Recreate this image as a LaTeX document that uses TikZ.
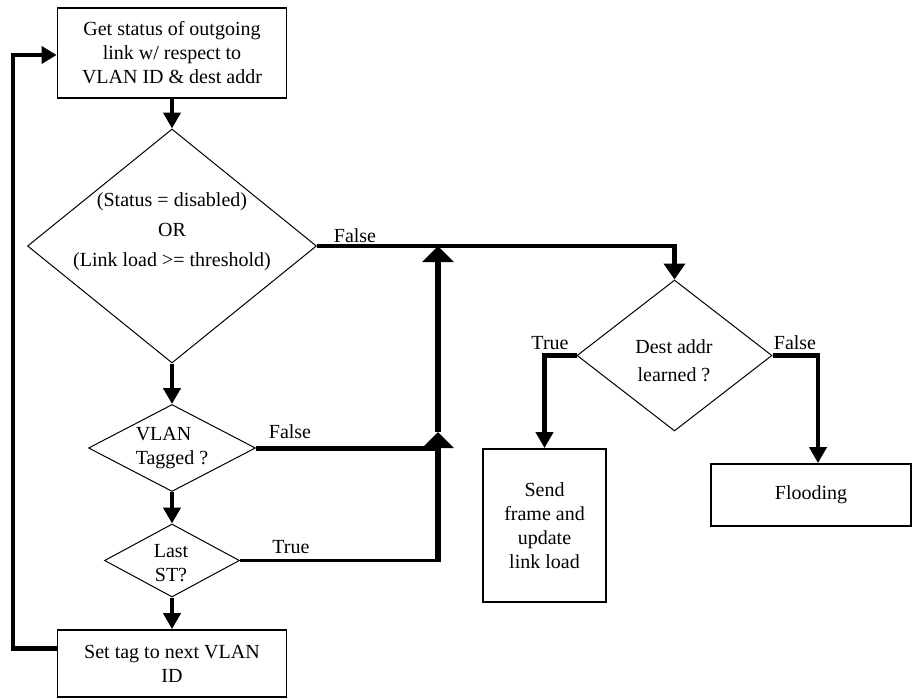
\documentclass[tikz,border=0pt]{standalone}
\usepackage{fontspec}
\setmainfont{Liberation Serif}
\usetikzlibrary{shapes.geometric,arrows.meta}
\begin{document}
\begin{tikzpicture}[x=1pt,y=-1pt,
  every node/.style={font=\fontsize{20}{24}\selectfont},
  box/.style={draw, line width=1.8pt, rectangle, inner sep=0pt, align=center},
  decision/.style={draw, line width=1pt, diamond, inner sep=0pt},
  txt/.style={inner sep=0pt, align=center},
  lbl/.style={inner sep=0pt},
  flow/.style={line width=4.5pt, -{Triangle[width=17pt,length=16pt]}},
  flowwide/.style={line width=4.5pt, -{Triangle[width=21pt,length=16pt]}},
  flowup/.style={line width=5.5pt, -{Triangle[width=31pt,length=16pt]}},
  joinline/.style={line width=5pt},
  thinjoin/.style={line width=3pt}
]
% canvas
\fill[white] (0,0) rectangle (913,699);
\useasboundingbox (0,0) rectangle (913,699);

% left column: status check and VLAN loop
\node[box, minimum width=229pt, minimum height=90pt] (top) at (172,53)
  {Get status of outgoing\\link w/ respect to\\VLAN ID \& dest addr};
\node[decision, minimum width=289pt, minimum height=234pt] (d1) at (172,246) {};
\node[txt] (d1t) at (172,232)
  {(Status = disabled)\\[6pt]OR\\[6pt](Link load >= threshold)};
\node[decision, minimum width=167pt, minimum height=87pt] (vlan) at (172,448) {};
\node[txt, align=left] (vlant) at (172,448.5) {VLAN\\Tagged ?};
\node[decision, minimum width=135pt, minimum height=73pt] (last) at (172,560.5) {};
\node[txt] (lastt) at (171,563) {Last\\ST?};
\node[box, minimum width=229pt, minimum height=67pt] (setbox) at (172,663.5)
  {Set tag to next VLAN\\ID};

% right part: forwarding decision
\node[decision, minimum width=195pt, minimum height=151pt] (dest) at (674.5,355.5) {};
\node[txt] (destt) at (674,361) {Dest addr\\[4pt]learned ?};
\node[box, minimum width=123pt, minimum height=153pt] (send) at (544.5,525.5)
  {Send\\frame and\\update\\link load};
\node[box, minimum width=200pt, minimum height=62pt] (flood) at (811,495) {Flooding};

% junction points on the return riser
\coordinate (jlow) at (438,560.5);
\coordinate (jvlan) at (440,448);
\coordinate (jmid) at (438,432);
\coordinate (loopx) at (13,350);

% vertical flow
\draw[flow] (top.south) -- (d1.north);
\draw[flow] (d1.south) -- (vlan.north);
\draw[flow] (vlan.south) -- (last.north);
\draw[flow] (last.south) -- (setbox.north);

% loop back to the top
\draw[line width=4.5pt, -{Triangle[width=17pt,length=15pt]}]
  ([yshift=15pt]setbox.west) -| (loopx) |- ([yshift=-2pt]top.west);

% false branch of the status test
\draw[flowwide] (d1.east) -| (dest.north);
\node[lbl] (f1) at (355,236) {False};

% VLAN and last-ST branches join the riser
\draw[joinline] (vlan.east) -- (jvlan);
\node[lbl] (f2) at (290,432) {False};
\draw[thinjoin] (last.east) -- ([xshift=1.5pt]jlow);
\node[lbl] (t1) at (291,547) {True};
\draw[flowup] ([yshift=-1.5pt]jlow) -- (jmid);
\draw[flowup] (jmid) -- (jmid |- d1.east);

% destination lookup outcomes
\draw[flow] (dest.west) -| (send.north);
\node[lbl] (t2) at (550,343) {True};
\draw[flow] (dest.east) -| ([xshift=7pt]flood.north);
\node[lbl] (f3) at (795,343) {False};
\end{tikzpicture}
\end{document}
